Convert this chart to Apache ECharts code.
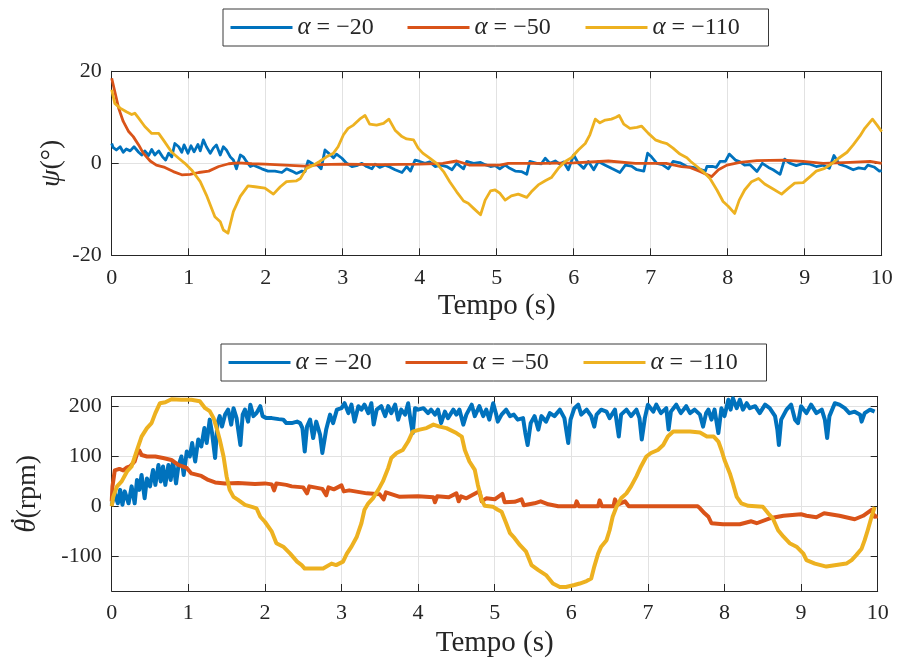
<!DOCTYPE html>
<html>
<head>
<meta charset="utf-8">
<title>Resposta para diferentes α</title>
<script src="https://cdn.jsdelivr.net/npm/echarts@6/dist/echarts.min.js"></script>
<style>
  html, body { margin: 0; padding: 0; background: #ffffff; }
  #chart { width: 897px; height: 668px; }
</style>
</head>
<body>
<div id="chart"></div>
<script>
// Series labels and colours
const seriesNames = ['α = −20', 'α = −50', 'α = −110'];
const seriesColors = ['#0072BD', '#D95319', '#EDB120'];

// Tick positions
const timeTicks = [0, 1, 2, 3, 4, 5, 6, 7, 8, 9, 10];
const psiTicks = [-20, 0, 20];
const rpmTicks = [-100, 0, 100, 200];

// ψ (degrees) versus time (s), one array per α
const psiA20 = [
  [0,4.3],[0.02,3.4],[0.06,2.9],[0.11,3.6],[0.15,2.4],[0.19,3.1],[0.24,2.7],[0.29,3.6],[0.35,2.4],[0.39,1.8],
  [0.43,2.7],[0.48,1.7],[0.52,3.0],[0.56,1.8],[0.61,2.7],[0.66,1.4],[0.7,0.7],[0.74,2.2],[0.78,1.4],[0.82,4.3],
  [0.87,3.6],[0.91,2.4],[0.94,4.0],[0.99,2.2],[1.03,3.8],[1.07,2.5],[1.12,4.1],[1.15,2.7],[1.19,5.1],[1.23,3.6],
  [1.28,2.2],[1.32,3.3],[1.36,4.0],[1.41,1.8],[1.45,3.6],[1.49,2.9],[1.54,1.4],[1.58,0.7],[1.62,-1.2],[1.67,1.8],
  [1.71,1.4],[1.75,0.4],[1.8,-0.7],[1.84,-0.4],[1.88,-0.7],[1.95,-1.2],[2.03,-1.7],[2.12,-1.7],[2.21,-2.0],[2.27,-1.2],
  [2.34,-1.7],[2.4,-2.2],[2.47,-1.7],[2.51,-1.8],[2.55,0.5],[2.62,-0.2],[2.67,-0.3],[2.72,-1.2],[2.77,2.9],[2.83,2.0],
  [2.88,1.2],[2.92,2.0],[2.99,1.1],[3.05,0],[3.12,-0.7],[3.18,-0.5],[3.25,0],[3.31,-0.7],[3.38,-1.2],[3.42,-0.2],
  [3.48,-0.9],[3.55,-0.4],[3.61,-0.8],[3.68,-1.4],[3.77,-2.0],[3.83,-0.7],[3.88,-1.7],[3.94,0.7],[4.0,0.4],[4.07,0],
  [4.13,0.3],[4.2,-0.7],[4.27,-0.4],[4.35,-0.7],[4.42,-1.4],[4.48,0],[4.57,-1.2],[4.61,0.4],[4.7,0],[4.79,0.2],
  [4.85,-0.3],[4.92,-0.7],[4.98,-0.5],[5.04,-1.2],[5.11,-0.4],[5.17,-1.1],[5.24,-1.7],[5.32,-1.8],[5.39,-2.4],[5.43,0.4],
  [5.52,0],[5.58,-0.1],[5.63,1.1],[5.69,0],[5.76,0.5],[5.82,-0.2],[5.87,0.3],[5.93,-1.4],[6.0,1.8],[6.06,0],
  [6.13,-1.1],[6.19,0.4],[6.26,-1.4],[6.32,0.4],[6.41,-0.4],[6.49,-1.1],[6.6,-2.0],[6.67,-0.4],[6.75,-0.6],[6.82,-1.4],
  [6.91,-1.7],[6.96,2.2],[7.01,1.4],[7.08,0],[7.15,-0.3],[7.23,-1.2],[7.29,0.4],[7.38,0.1],[7.47,-0.7],[7.55,-0.9],
  [7.6,-1.1],[7.71,-1.7],[7.73,-0.7],[7.81,-0.7],[7.85,-0.9],[7.9,0.4],[7.97,0.4],[8.02,2.0],[8.1,0.7],[8.16,0.3],
  [8.22,-0.4],[8.29,-0.3],[8.38,-1.8],[8.45,0],[8.53,-0.9],[8.59,-1.4],[8.68,-2.4],[8.74,0.9],[8.81,0],[8.89,-0.5],
  [8.98,0],[9.07,-0.2],[9.15,-0.7],[9.24,-0.4],[9.32,-1.1],[9.38,1.7],[9.45,-0.2],[9.54,-0.7],[9.63,-1.4],[9.7,-1.0],
  [9.78,-1.2],[9.82,-0.4],[9.9,-0.8],[9.97,-1.7],[10,-1.6]
];
const psiA50 = [
  [0,18.5],[0.01,18.1],[0.04,15.6],[0.09,12],[0.15,9.1],[0.22,6.9],[0.28,5.8],[0.35,4],[0.41,2.2],[0.5,0.5],
  [0.58,-0.4],[0.69,-0.9],[0.8,-1.8],[0.91,-2.5],[1.02,-2.4],[1.13,-2],[1.26,-1.7],[1.39,-0.7],[1.52,-0.1],[1.65,0.1],
  [1.82,-0.1],[1.99,-0.2],[2.25,-0.4],[2.51,-0.6],[2.7,-0.3],[3.0,-0.2],[3.5,-0.3],[4.0,-0.2],[4.3,0],[4.48,0.5],
  [4.65,-0.4],[5.04,-0.4],[5.15,0],[5.6,0],[6.0,0.1],[6.45,0.5],[6.8,0],[7.2,0],[7.4,-0.7],[7.51,-0.9],
  [7.64,-1.8],[7.79,-2.9],[7.88,-1.4],[7.99,-0.4],[8.16,0.2],[8.38,0.6],[8.72,0.7],[8.98,0.4],[9.24,0],[9.59,0.2],
  [9.85,0.4],[10,0]
];
const psiA110 = [
  [0,16],[0.04,13],[0.11,12],[0.19,11.2],[0.26,10.6],[0.3,10.9],[0.35,9.8],[0.43,8],[0.52,6.5],[0.61,6.5],
  [0.67,5.1],[0.78,2.4],[0.87,1.1],[0.95,0],[1.04,-1.5],[1.15,-4],[1.23,-6.9],[1.34,-11.6],[1.41,-12.7],[1.45,-14.5],
  [1.51,-15.2],[1.58,-10.5],[1.67,-7.2],[1.77,-4.9],[1.86,-5.1],[1.99,-5.4],[2.1,-6.7],[2.19,-5.1],[2.27,-4],[2.4,-3.8],
  [2.45,-3.3],[2.53,-1.1],[2.62,-0.4],[2.7,0.4],[2.79,1.4],[2.88,2.2],[2.94,3.6],[3.01,6.2],[3.07,7.6],[3.14,8.3],
  [3.22,9.6],[3.29,10.4],[3.35,8.5],[3.44,8.3],[3.53,8.7],[3.6,9.6],[3.68,7.2],[3.77,5.8],[3.83,5.3],[3.92,5.1],
  [3.98,3.3],[4.04,2.2],[4.13,1.1],[4.22,0],[4.31,-1.8],[4.39,-4],[4.48,-6.2],[4.57,-8.2],[4.63,-8.7],[4.7,-9.8],
  [4.79,-11.2],[4.85,-8],[4.92,-6],[4.98,-5.8],[5.04,-6.5],[5.11,-8],[5.19,-7.1],[5.28,-6.7],[5.39,-7.4],[5.45,-6.2],
  [5.54,-4.7],[5.63,-3.8],[5.71,-3.1],[5.8,-1.1],[5.89,0.4],[5.97,1.2],[6.06,2.9],[6.15,4.3],[6.21,6.2],[6.28,9.6],
  [6.34,8.8],[6.41,9.4],[6.49,9.6],[6.55,10],[6.59,10.4],[6.65,8.5],[6.73,7.6],[6.82,7.8],[6.88,8.1],[6.97,6.5],
  [7.06,5.1],[7.14,4.6],[7.21,4.3],[7.29,3.3],[7.38,2],[7.47,1.2],[7.52,0.4],[7.6,-0.7],[7.68,-1.8],[7.77,-3.3],
  [7.86,-5.8],[7.94,-8.3],[8.01,-9.4],[8.09,-10.9],[8.15,-8],[8.22,-5.8],[8.31,-4],[8.4,-3.3],[8.48,-4.5],[8.59,-5.6],
  [8.7,-6.7],[8.79,-5.4],[8.87,-4.3],[8.98,-4.2],[9.07,-2.9],[9.15,-1.7],[9.26,-1.1],[9.35,-0.1],[9.44,1.1],[9.55,2.4],
  [9.63,4],[9.72,6],[9.78,7.6],[9.88,9.6],[9.94,8.3],[10,6.9]
];

// dθ/dt (rpm) versus time (s), one array per α
const rpmA20 = [
  [0,3],[0.02,6],[0.04,26],[0.08,6],[0.11,33],[0.14,3],[0.17,30],[0.22,6],[0.26,40],[0.3,6],
  [0.33,53],[0.36,33],[0.39,63],[0.43,16],[0.46,56],[0.5,40],[0.54,73],[0.57,43],[0.61,83],[0.64,50],
  [0.67,80],[0.7,43],[0.74,83],[0.77,53],[0.8,90],[0.84,46],[0.87,80],[0.91,100],[0.94,63],[0.98,110],
  [1.02,100],[1.05,127],[1.09,90],[1.13,134],[1.17,120],[1.21,157],[1.24,127],[1.28,174],[1.31,147],[1.35,97],
  [1.38,167],[1.41,181],[1.44,160],[1.48,184],[1.52,194],[1.56,164],[1.59,197],[1.63,177],[1.68,123],[1.71,184],
  [1.74,194],[1.78,170],[1.81,204],[1.85,181],[1.89,187],[1.94,201],[1.97,181],[2.02,177],[2.09,177],[2.18,175],
  [2.24,174],[2.28,167],[2.35,167],[2.42,170],[2.46,167],[2.49,157],[2.52,110],[2.55,160],[2.59,174],[2.63,137],
  [2.67,170],[2.72,144],[2.75,107],[2.8,154],[2.85,184],[2.89,167],[2.94,194],[3.0,197],[3.04,207],[3.09,187],
  [3.13,204],[3.17,170],[3.22,201],[3.26,194],[3.3,204],[3.35,187],[3.39,207],[3.42,164],[3.46,194],[3.52,201],
  [3.57,181],[3.61,201],[3.65,187],[3.7,204],[3.74,174],[3.78,194],[3.83,184],[3.87,207],[3.9,174],[3.93,147],
  [3.96,197],[4.0,194],[4.07,197],[4.13,187],[4.17,194],[4.22,184],[4.26,194],[4.3,167],[4.35,190],[4.39,177],
  [4.46,194],[4.5,184],[4.54,194],[4.59,164],[4.63,184],[4.7,204],[4.74,181],[4.8,201],[4.85,181],[4.89,194],
  [4.93,174],[4.98,207],[5.02,184],[5.04,170],[5.09,184],[5.15,194],[5.2,181],[5.25,184],[5.3,174],[5.37,177],
  [5.4,147],[5.43,123],[5.47,167],[5.52,181],[5.57,154],[5.61,181],[5.67,170],[5.72,187],[5.78,181],[5.85,194],
  [5.91,177],[5.96,127],[5.99,174],[6.04,197],[6.09,204],[6.13,184],[6.2,194],[6.26,181],[6.3,160],[6.33,184],
  [6.39,194],[6.46,190],[6.5,177],[6.57,194],[6.62,140],[6.65,184],[6.72,194],[6.78,181],[6.85,194],[6.89,177],
  [6.92,134],[6.96,177],[7.0,204],[7.07,190],[7.11,204],[7.17,187],[7.24,197],[7.27,154],[7.3,190],[7.37,204],
  [7.43,187],[7.5,201],[7.55,187],[7.61,194],[7.68,184],[7.72,160],[7.76,187],[7.79,194],[7.83,174],[7.87,194],
  [7.92,147],[7.96,197],[8.0,181],[8.05,214],[8.08,194],[8.11,217],[8.16,197],[8.2,214],[8.24,194],[8.29,207],
  [8.33,197],[8.4,201],[8.46,187],[8.53,204],[8.59,197],[8.66,181],[8.69,154],[8.71,123],[8.74,174],[8.81,194],
  [8.87,204],[8.92,174],[8.96,167],[9.0,201],[9.07,187],[9.13,204],[9.2,187],[9.27,194],[9.31,174],[9.34,137],
  [9.37,181],[9.44,207],[9.5,204],[9.57,197],[9.63,187],[9.7,190],[9.77,184],[9.79,170],[9.83,187],[9.9,194],
  [9.96,190]
];
const rpmA50 = [
  [0,10],[0.01,40],[0.04,72],[0.1,75],[0.15,72],[0.2,78],[0.24,80],[0.3,90],[0.33,105],[0.36,112],
  [0.39,103],[0.46,100],[0.57,100],[0.67,97],[0.78,93],[0.87,83],[0.98,77],[1.04,66],[1.17,61],[1.26,53],
  [1.35,48],[1.48,46],[1.65,47],[1.87,45],[2.0,46],[2.09,44],[2.12,32],[2.15,46],[2.28,43],[2.35,40],
  [2.5,38],[2.55,26],[2.58,40],[2.75,35],[2.8,22],[2.83,38],[2.9,34],[3.0,42],[3.03,30],[3.1,32],
  [3.33,26],[3.5,24],[3.55,14],[3.58,28],[3.76,19],[4.0,20],[4.2,18],[4.22,8],[4.25,20],[4.4,18],
  [4.5,26],[4.53,10],[4.56,20],[4.63,16],[4.8,30],[4.83,10],[4.89,16],[5.0,14],[5.1,25],[5.13,8],
  [5.26,9],[5.35,14],[5.38,2],[5.52,6],[5.6,10],[5.7,4],[5.83,0],[6.05,0],[6.07,10],[6.1,0],
  [6.35,0],[6.37,12],[6.4,0],[6.55,0],[6.57,14],[6.6,3],[6.7,10],[6.75,0],[7.65,0],[7.68,-4],
  [7.74,-14],[7.79,-21],[7.83,-34],[7.98,-36],[8.2,-36],[8.35,-30],[8.42,-34],[8.59,-24],[8.77,-19],[9.0,-16],
  [9.07,-19],[9.2,-22],[9.3,-14],[9.5,-19],[9.7,-26],[9.81,-19],[9.92,-7],[9.96,-21],[10,-20]
];
const rpmA110 = [
  [0,0],[0.02,19],[0.07,40],[0.13,50],[0.2,70],[0.26,80],[0.33,113],[0.39,140],[0.46,157],[0.52,167],
  [0.57,187],[0.63,207],[0.7,209],[0.78,215],[0.91,214],[1.04,214],[1.15,211],[1.22,197],[1.28,191],[1.33,177],
  [1.37,157],[1.41,134],[1.46,100],[1.5,60],[1.54,33],[1.59,19],[1.65,13],[1.74,3],[1.83,-1],[1.89,-4],
  [1.94,-21],[2.0,-31],[2.09,-51],[2.15,-74],[2.24,-81],[2.33,-95],[2.42,-111],[2.48,-118],[2.52,-125],[2.63,-125],
  [2.76,-125],[2.87,-115],[2.93,-118],[3.02,-111],[3.07,-95],[3.13,-81],[3.2,-61],[3.26,-34],[3.3,-7],[3.35,6],
  [3.41,16],[3.48,33],[3.54,50],[3.61,77],[3.65,97],[3.72,107],[3.8,113],[3.87,130],[3.93,150],[4.02,154],
  [4.11,157],[4.2,164],[4.28,160],[4.37,157],[4.5,147],[4.57,140],[4.61,113],[4.67,90],[4.74,73],[4.78,43],
  [4.83,13],[4.87,1],[4.98,-1],[5.04,-7],[5.09,-11],[5.15,-34],[5.2,-54],[5.26,-64],[5.33,-78],[5.41,-91],
  [5.48,-118],[5.57,-128],[5.67,-138],[5.76,-155],[5.85,-162],[5.93,-162],[6.04,-158],[6.11,-155],[6.2,-150],[6.26,-145],
  [6.3,-121],[6.35,-95],[6.39,-81],[6.46,-68],[6.5,-48],[6.54,-21],[6.59,-1],[6.65,16],[6.72,26],[6.78,40],
  [6.85,60],[6.91,80],[6.98,100],[7.04,107],[7.13,113],[7.2,123],[7.26,140],[7.33,150],[7.43,150],[7.55,150],
  [7.68,148],[7.77,140],[7.86,140],[7.92,130],[7.96,113],[8.0,93],[8.07,66],[8.11,46],[8.16,19],[8.22,6],
  [8.31,1],[8.5,-1],[8.57,-14],[8.63,-24],[8.7,-48],[8.77,-61],[8.85,-74],[8.94,-81],[9.03,-95],[9.07,-108],
  [9.18,-115],[9.33,-121],[9.46,-118],[9.59,-115],[9.66,-108],[9.72,-98],[9.79,-85],[9.83,-68],[9.87,-48],[9.92,-21],
  [9.96,-1]
];

const psiSeries = [psiA20, psiA50, psiA110];
const rpmSeries = [rpmA20, rpmA50, rpmA110];

const FONT = '"Liberation Serif", "Times New Roman", serif';
const INK = '#262626';
const GRIDLINE = '#e2e2e2';
const legendTextWidths = [96, 97, 109];

const chart = echarts.init(document.getElementById('chart'), null, { renderer: 'canvas' });

function timeAxes(gridIndex, labelMargin, nameGap) {
  const base = {
    type: 'value', gridIndex: gridIndex, min: timeTicks[0], max: timeTicks[timeTicks.length - 1], interval: 1,
    axisLine: { show: true, onZero: false, lineStyle: { color: INK, width: 1 } },
    axisTick: { show: true, inside: true, length: 7, lineStyle: { color: INK, width: 1 } }
  };
  return [
    Object.assign({}, base, {
      position: 'bottom',
      axisLabel: { color: INK, fontFamily: FONT, fontSize: 22, margin: labelMargin },
      splitLine: { show: true, lineStyle: { color: GRIDLINE, width: 1 } },
      name: 'Tempo (s)', nameLocation: 'middle', nameGap: nameGap, nameMoveOverlap: false,
      nameTextStyle: { color: INK, fontFamily: FONT, fontSize: 29 }
    }),
    Object.assign({}, base, {
      position: 'top',
      axisLabel: { show: false },
      splitLine: { show: false }
    })
  ];
}

function valueAxes(gridIndex, min, max, ticks, interval, name, rich, nameGap) {
  const base = {
    type: 'value', gridIndex: gridIndex, min: min, max: max,
    axisLine: { show: true, onZero: false, lineStyle: { color: INK, width: 1 } },
    axisTick: { show: true, inside: true, length: 7, lineStyle: { color: INK, width: 1 }, customValues: ticks }
  };
  if (interval) base.interval = interval;
  return [
    Object.assign({}, base, {
      position: 'left',
      axisLabel: { color: INK, fontFamily: FONT, fontSize: 22, margin: 10, customValues: ticks },
      splitLine: { show: true, lineStyle: { color: GRIDLINE, width: 1 } },
      name: name, nameLocation: 'middle', nameGap: nameGap, nameMoveOverlap: false,
      nameTextStyle: { color: INK, fontFamily: FONT, fontSize: 28, rich: rich }
    }),
    Object.assign({}, base, {
      position: 'right',
      axisLabel: { show: false },
      splitLine: { show: false }
    })
  ];
}

function makeLegend(top, left) {
  return {
    top: top, left: left, orient: 'horizontal',
    padding: [6, 7, 6, 7.5], itemGap: 14, itemWidth: 62, itemHeight: 3,
    icon: 'rect',
    backgroundColor: '#ffffff', borderColor: '#3a3a3a', borderWidth: 1, borderRadius: 0,
    selectedMode: false,
    data: seriesNames.map((n, i) => ({ name: n, textStyle: { width: legendTextWidths[i] } })),
    formatter: name => '{a|α}{b|' + name.slice(1) + '}',
    textStyle: {
      color: INK, fontFamily: FONT, fontSize: 24, lineHeight: 25,
      rich: {
        a: { fontFamily: FONT, fontStyle: 'italic', fontSize: 25, color: INK, lineHeight: 25 },
        b: { fontFamily: FONT, fontSize: 24, color: INK, lineHeight: 25 }
      }
    }
  };
}

const lineSeries = [];
psiSeries.forEach((data, i) => {
  lineSeries.push({
    name: seriesNames[i], type: 'line', xAxisIndex: 0, yAxisIndex: 0,
    data: data, symbol: 'none', showSymbol: false, clip: true,
    lineStyle: { color: seriesColors[i], width: 2.8, join: 'round' },
    itemStyle: { color: seriesColors[i] }
  });
});
rpmSeries.forEach((data, i) => {
  lineSeries.push({
    name: seriesNames[i], type: 'line', xAxisIndex: 2, yAxisIndex: 2,
    data: data, symbol: 'none', showSymbol: false, clip: true,
    lineStyle: { color: seriesColors[i], width: 4, join: 'round' },
    itemStyle: { color: seriesColors[i] }
  });
});

const option = {
  animation: false,
  backgroundColor: '#ffffff',
  textStyle: { fontFamily: FONT },
  legend: [makeLegend(9, 223), makeLegend(344, 221)],
  grid: [
    { left: 111.7, right: 15.3, top: 71.3, height: 184, containLabel: false },
    { left: 111.7, right: 19.3, top: 396.7, height: 194.3, containLabel: false }
  ],
  xAxis: timeAxes(0, 12, 37).concat(timeAxes(1, 11, 38)),
  yAxis: valueAxes(0, psiTicks[0], psiTicks[psiTicks.length - 1], psiTicks, 20,
      '{i|ψ}{r|(°)}',
      { i: { fontFamily: FONT, fontStyle: 'italic', fontSize: 28, color: INK },
        r: { fontFamily: FONT, fontSize: 28, color: INK } }, 46)
    .concat(valueAxes(1, -170, 220, rpmTicks, null,
      '{i|θ}{r|(rpm)}',
      { i: { fontFamily: FONT, fontStyle: 'italic', fontSize: 29, color: INK },
        r: { fontFamily: FONT, fontSize: 28, color: INK } }, 70)),
  // time-derivative dot over the θ of the lower axis title
  graphic: [{
    type: 'text', x: 23, y: 521, rotation: Math.PI / 2,
    style: { text: '˙', fontFamily: FONT, fontSize: 30, fill: INK, align: 'center', verticalAlign: 'middle' }
  }],
  series: lineSeries
};

chart.setOption(option);
</script>
</body>
</html>
